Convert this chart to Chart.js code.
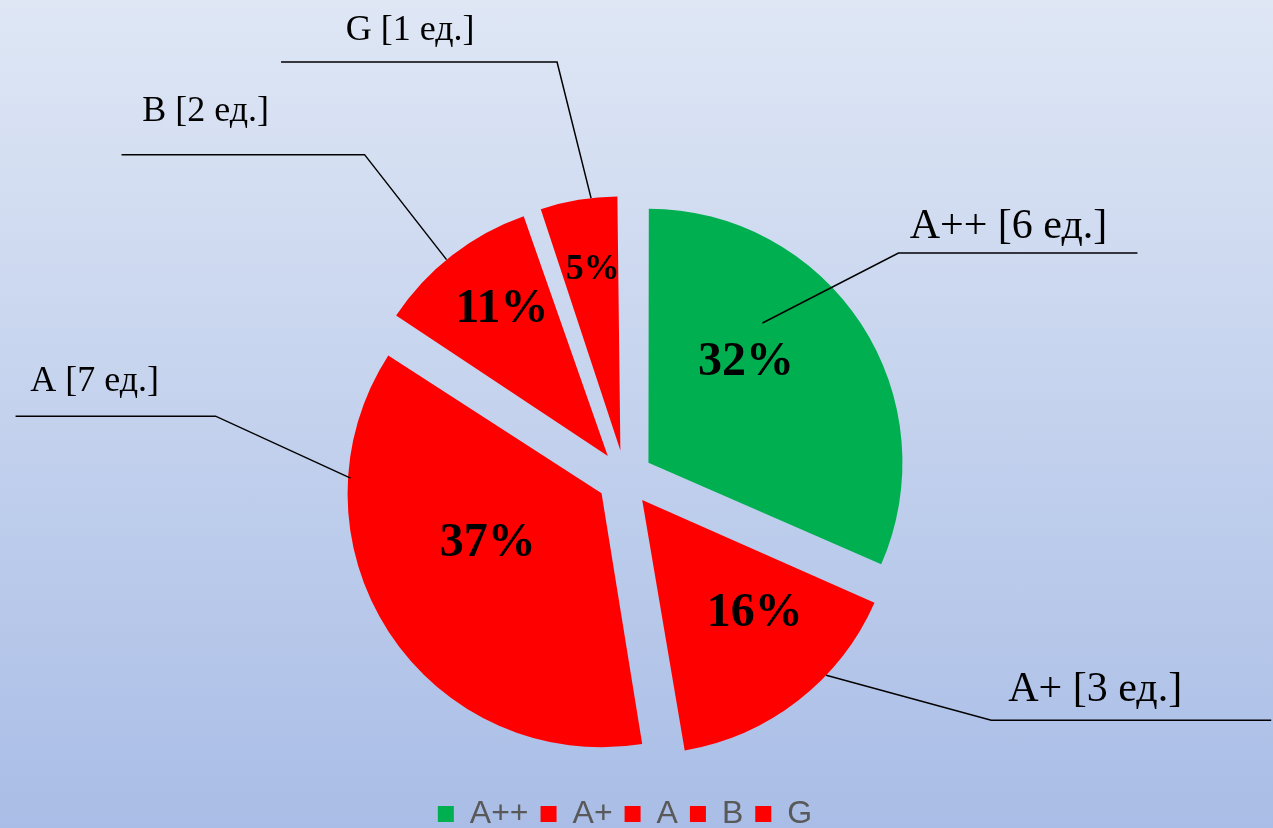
<!DOCTYPE html>
<html lang="ru">
<head>
<meta charset="utf-8">
<title>Классы энергоэффективности</title>
<script src="https://cdn.jsdelivr.net/npm/chart.js@4/dist/chart.umd.min.js"></script>
<style>
  html, body { margin: 0; padding: 0; overflow: hidden; }
  body { width: 1273px; height: 828px; background: linear-gradient(#dfe7f5, #a9bde6); }
  #wrap { position: relative; width: 1273px; height: 828px; }
</style>
</head>
<body>
<div id="wrap"><canvas id="pie"></canvas></div>
<script>
// данные
const classes = ['A++', 'A+', 'A', 'B', 'G'];
const units = [6, 3, 7, 2, 1];
const colors = ['#00b050', '#ff0000', '#ff0000', '#ff0000', '#ff0000'];

// оформление
const pieRadius = 254;
const explode = 112; // в v4 дуга сдвигается на offset/4
const serif = "'Liberation Serif', 'Times New Roman', serif";

// где внутри сектора стоит процент: доля угла, доля радиуса, размер шрифта
const pctPos = [
  { a: 0.39, r: 0.55, size: 48 },
  { a: 0.38, r: 0.63, size: 48 },
  { a: 0.57, r: 0.49, size: 48 },
  { a: 0.55, r: 0.71, size: 48 },
  { a: 0.54, r: 0.72, size: 36 }
];

// выноски: точка на секторе, излом, полка, подпись
const callouts = [
  { a: 0.345, r: 0.71, dx: 136, dy: -70, shelf: 239, tx: 110, ty: -26, size: 42 },
  { a: 0.35, r: 1.0, dx: 165, dy: 45, shelf: 280, tx: 104, ty: -30, size: 42 },
  { a: 0.776, r: 0.99, dx: -135, dy: -62, shelf: -200, tx: -121, ty: -35, size: 36 },
  { a: 0.46, r: 1.0, dx: -82, dy: -105, shelf: -243, tx: -159, ty: -43, size: 36 },
  { a: 0.65, r: 1.0, dx: -34, dy: -136, shelf: -276, tx: -147, ty: -32, size: 36 }
];

const total = units.reduce((s, v) => s + v, 0);

// сдвинутый центр сектора и точка на нём
function slicePoint(el, frac, rf) {
  const p = el.getProps(['x', 'y', 'startAngle', 'endAngle'], true);
  const mid = (p.startAngle + p.endAngle) / 2;
  const cx = p.x + Math.cos(mid) * explode / 4;
  const cy = p.y + Math.sin(mid) * explode / 4;
  const ang = p.startAngle + frac * (p.endAngle - p.startAngle);
  return { x: cx + Math.cos(ang) * pieRadius * rf, y: cy + Math.sin(ang) * pieRadius * rf };
}

// Chart.js увеличивает радиус узких секторов при offset — возвращаем одинаковый радиус
const keepRadius = {
  id: 'keepRadius',
  beforeDatasetsDraw(chart) {
    chart.getDatasetMeta(0).data.forEach(el => {
      const fix = 1 - Math.sin(Math.min(Math.PI, el.circumference));
      el.outerRadius = pieRadius - (explode / 4) * fix;
    });
  }
};

const labelsPlugin = {
  id: 'labelsPlugin',
  afterDatasetsDraw(chart) {
    const ctx = chart.ctx;
    const arcs = chart.getDatasetMeta(0).data;
    ctx.save();
    arcs.forEach((el, i) => {
      // процент внутри
      const pp = pctPos[i];
      const pt = slicePoint(el, pp.a, pp.r);
      ctx.fillStyle = '#000';
      ctx.font = `bold ${pp.size}px ${serif}`;
      ctx.textAlign = 'center';
      ctx.textBaseline = 'middle';
      ctx.fillText(Math.round(units[i] / total * 100) + '%', pt.x, pt.y);

      // выноска
      const c = callouts[i];
      const a = slicePoint(el, c.a, c.r);
      const ex = a.x + c.dx, ey = a.y + c.dy;
      ctx.strokeStyle = '#000';
      ctx.lineWidth = 1.5;
      ctx.beginPath();
      ctx.moveTo(a.x, a.y);
      ctx.lineTo(ex, ey);
      ctx.lineTo(ex + c.shelf, ey);
      ctx.stroke();
      ctx.font = `${c.size}px ${serif}`;
      ctx.fillText(`${classes[i]} [${units[i]} ед.]`, ex + c.tx, ey + c.ty);
    });
    ctx.restore();
  }
};

new Chart(document.getElementById('pie'), {
  type: 'pie',
  data: {
    labels: classes,
    datasets: [{
      data: units,
      backgroundColor: colors,
      borderWidth: 0,
      offset: explode
    }]
  },
  options: {
    responsive: true,
    maintainAspectRatio: false,
    animation: false,
    radius: pieRadius,
    layout: { padding: { top: 170, right: 23, bottom: -12, left: 0 } },
    plugins: {
      tooltip: { enabled: false },
      legend: {
        position: 'bottom',
        labels: {
          color: '#595959',
          font: { family: "'Liberation Sans', Arial, sans-serif", size: 32 },
          boxWidth: 16,
          boxHeight: 16,
          padding: 12
        }
      }
    }
  },
  plugins: [keepRadius, labelsPlugin]
});
</script>
</body>
</html>
